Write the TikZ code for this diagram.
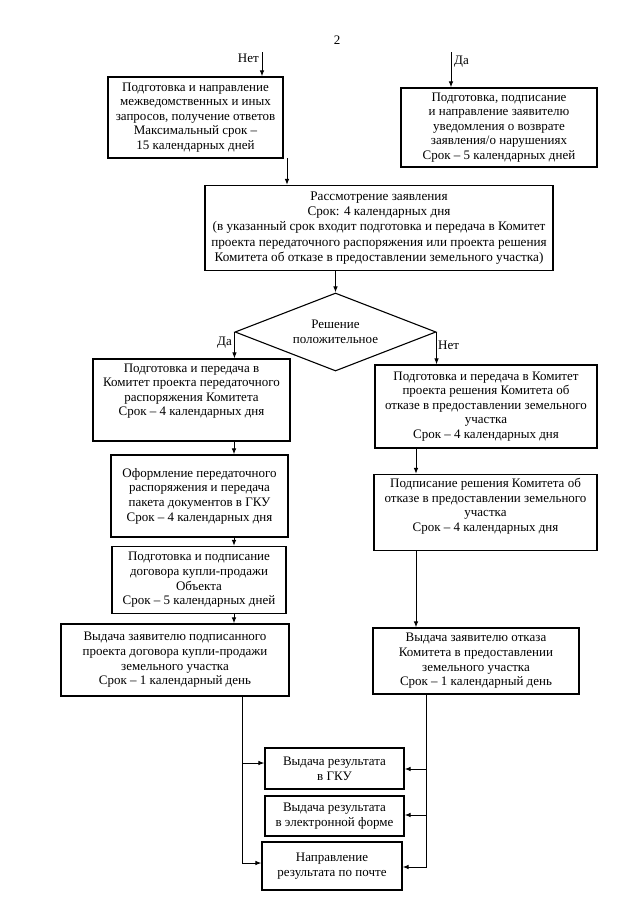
\documentclass[tikz,border=0pt]{standalone}
\usepackage{fontspec}
\setmainfont{Liberation Serif}
\usetikzlibrary{arrows.meta,shapes.geometric}
\begin{document}
\begin{tikzpicture}[x=1pt,y=-1pt,
  txt/.style={font=\fontsize{13}{14.6}\selectfont},
  box/.style={txt, draw, line width=1.1pt, align=center, inner sep=0pt},
  lbl/.style={txt, inner sep=1pt},
  arr/.style={line width=1pt, -{Latex[length=6pt,width=4.5pt]}},
  ln/.style={line width=1pt}]
\useasboundingbox (0,0) rectangle (640,905);
\fill[white] (0,0) rectangle (640,905);

\node[lbl] (pg) at (337,40) {2};

\node[box, minimum width=175pt, minimum height=81pt] (A) at (195.5,117.5)
  {Подготовка и направление\\межведомственных и иных\\запросов, получение ответов\\Максимальный срок –\\15 календарных дней};
\node[box, minimum width=196pt, minimum height=79pt] (R) at (499,127.5)
  {Подготовка, подписание\\и направление заявителю\\уведомления о возврате\\заявления/о нарушениях\\Срок – 5 календарных дней};
\node[box, minimum width=348pt, minimum height=85pt, font=\fontsize{13.2}{15.2}\selectfont] (B) at (379,228)
  {Рассмотрение заявления\\Срок: 4 календарных дня\\(в указанный срок входит подготовка и передача в Комитет\\проекта передаточного распоряжения или проекта решения\\Комитета об отказе в предоставлении земельного участка)};
\node[txt, diamond, shape aspect=2.6, draw, line width=1.1pt, minimum width=201pt, minimum height=78pt, inner sep=0pt, align=center] (dia) at (335.5,332)
  {Решение\\положительное};

\node[box, minimum width=197pt, minimum height=82pt] (C1) at (191.5,400)
  {Подготовка и передача в\\Комитет проекта передаточного\\распоряжения Комитета\\Срок – 4 календарных дня\\[6pt]};
\node[box, minimum width=177pt, minimum height=82pt] (C2) at (199.5,496)
  {Оформление передаточного\\распоряжения и передача\\пакета документов в ГКУ\\Срок – 4 календарных дня};
\node[box, minimum width=174pt, minimum height=67pt] (C3) at (199,580)
  {Подготовка и подписание\\договора купли-продажи\\Объекта\\Срок – 5 календарных дней};
\node[box, minimum width=228pt, minimum height=72pt] (C4) at (175,660)
  {Выдача заявителю подписанного\\проекта договора купли-продажи\\земельного участка\\Срок – 1 календарный день};

\node[box, minimum width=222pt, minimum height=83pt] (D1) at (486,406.5)
  {Подготовка и передача в Комитет\\проекта решения Комитета об\\отказе в предоставлении земельного\\участка\\Срок – 4 календарных дня};
\node[box, minimum width=223pt, minimum height=76pt] (D2) at (485.5,512.5)
  {Подписание решения Комитета об\\отказе в предоставлении земельного\\участка\\Срок – 4 календарных дня\\[1pt]};
\node[box, minimum width=206pt, minimum height=66pt] (D3) at (476,661)
  {Выдача заявителю отказа\\Комитета в предоставлении\\земельного участка\\Срок – 1 календарный день};

\node[box, minimum width=139pt, minimum height=41pt] (E1) at (334.5,768.5)
  {Выдача результата\\в ГКУ};
\node[box, minimum width=139pt, minimum height=40pt] (E2) at (334.5,816)
  {Выдача результата\\в электронной форме};
\node[box, minimum width=140pt, minimum height=48pt] (E3) at (332,866)
  {Направление\\результата по почте};

% top arrows and labels
\coordinate (t1) at (262,52);
\draw[arr] (t1) -- (t1 |- A.north);
\node[lbl, anchor=east] (l1) at (260,58) {Нет};
\coordinate (t2) at (451,52);
\draw[arr] (t2) -- (t2 |- R.north);
\node[lbl, anchor=west] (l2) at (453,62) {Да};

\coordinate (aout) at (287,158);
\draw[arr] (aout) -- (aout |- B.north);
\draw[arr] (dia.north |- B.south) -- (dia.north);

\draw[arr] (dia.west) -- (dia.west |- C1.north);
\draw[arr] (dia.east) -- (dia.east |- D1.north);
\node[lbl, anchor=east] (l3) at (233,343) {Да};
\node[lbl, anchor=west] (l4) at (437,345) {Нет};

% left column
\coordinate (xl) at (234,0);
\draw[arr] (C1.south -| xl) -- (C2.north -| xl);
\draw[arr] (C2.south -| xl) -- (C3.north -| xl);
\draw[arr] (C3.south -| xl) -- (C4.north -| xl);

% right column
\coordinate (xr) at (416,0);
\draw[arr] (D1.south -| xr) -- (D2.north -| xr);
\draw[arr] (D2.south -| xr) -- (D3.north -| xr);

% trunks
\coordinate (tl) at (242,0);
\coordinate (tr) at (426,0);
\coordinate (ya) at (0,763);
\coordinate (yb) at (0,863);
\coordinate (yc) at (0,769);
\coordinate (yd) at (0,815);
\coordinate (ye) at (0,867);
\draw[arr] (C4.south -| tl) -- (tl |- yb) -- (E3.west |- yb);
\draw[arr] (tl |- ya) -- (E1.west |- ya);
\draw[arr] (D3.south -| tr) -- (tr |- ye) -- (E3.east |- ye);
\draw[arr] (tr |- yc) -- (E1.east |- yc);
\draw[arr] (tr |- yd) -- (E2.east |- yd);
\end{tikzpicture}
\end{document}
